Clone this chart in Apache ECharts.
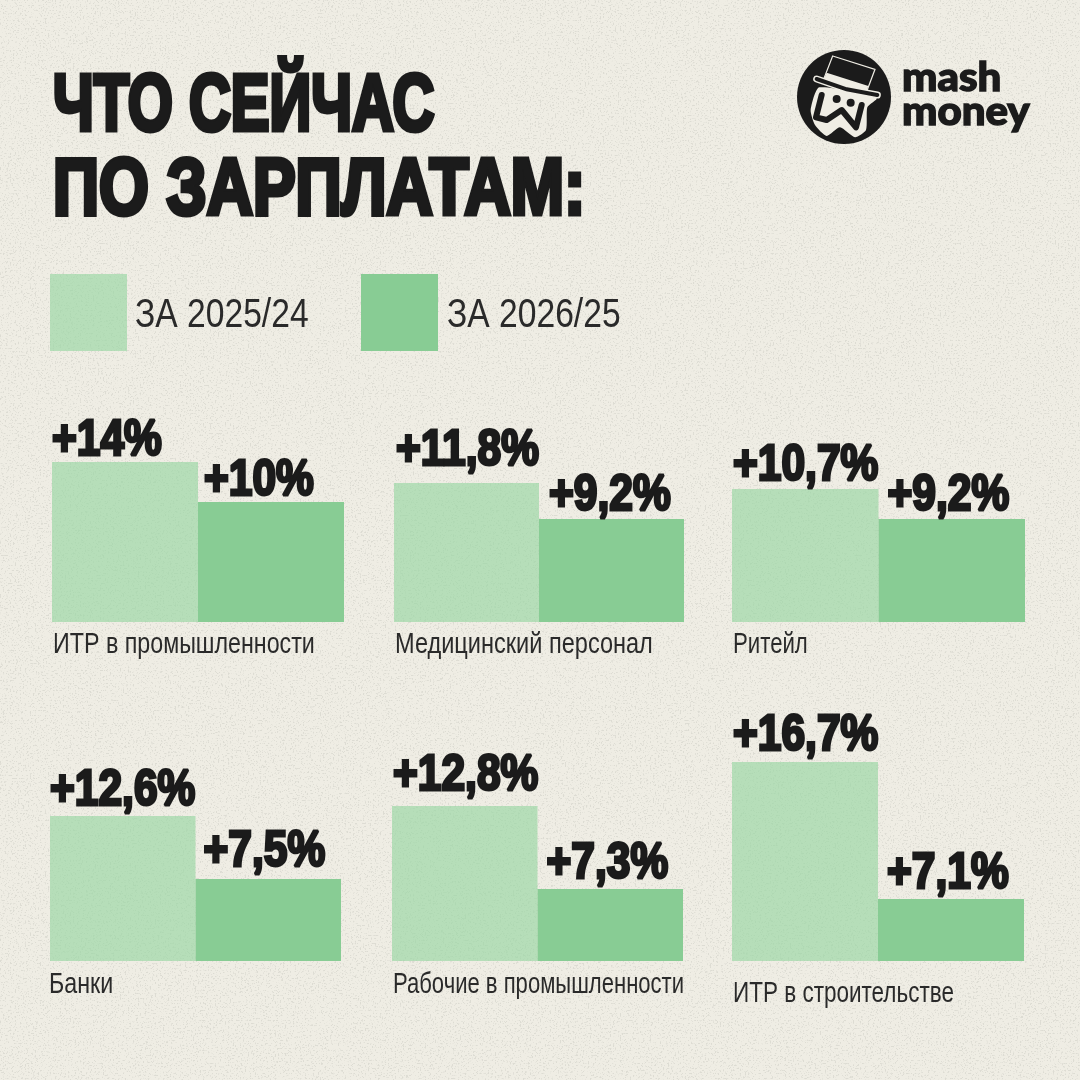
<!DOCTYPE html>
<html><head><meta charset="utf-8">
<script src="https://cdn.jsdelivr.net/npm/echarts@6/dist/echarts.min.js"></script>
<style>
html,body{margin:0;padding:0;width:1080px;height:1080px;overflow:hidden;background:#efede4}
#noise{position:absolute;left:0;top:0}
#c{position:absolute;left:0;top:0;width:1080px;height:1080px}
</style></head><body>
<svg id="noise" width="1080" height="1080"><filter id="f" x="0" y="0" width="100%" height="100%">
<feTurbulence type="fractalNoise" baseFrequency="0.6" numOctaves="3" seed="7"/>
<feColorMatrix values="0 0 0 0 0.55  0 0 0 0 0.55  0 0 0 0 0.50  0 0 0 -7 3.0"/>
</filter><rect width="1080" height="1080" fill="#efede4"/><rect width="1080" height="1080" filter="url(#f)" opacity=".4"/></svg>
<div id="c"></div>
<script>
const titleLines = ['ЧТО СЕЙЧАС', 'ПО ЗАРПЛАТАМ:'];
const seriesNames = ['ЗА 2025/24', 'ЗА 2026/25'];
const categories = ['ИТР в промышленности', 'Медицинский персонал', 'Ритейл', 'Банки', 'Рабочие в промышленности', 'ИТР в строительстве'];
const values2025 = [14, 11.8, 10.7, 12.6, 12.8, 16.7];
const values2026 = [10, 9.2, 9.2, 7.5, 7.3, 7.1];
const logoWords = ['mash', 'money'];

// layout of the six small panels and the vertical scale each one uses in the picture
const panelBox = [
  {x:52,w:292,base:622,nameX:53,nameY:645,nameScale:0.775},{x:394,w:290,base:622,nameX:395,nameY:645,nameScale:0.785},{x:732,w:293,base:622,nameX:733,nameY:645,nameScale:0.74},
  {x:50,w:291,base:961,nameX:49,nameY:985,nameScale:0.775},{x:392,w:291,base:961,nameX:393,nameY:985,nameScale:0.735},{x:732,w:292,base:961,nameX:733,nameY:994,nameScale:0.75}
];
const scaleMin = [-2, 1.76, 4.05, 0.86, 2.53, 2.75];
const scaleMax = [18, 16.2, 14.05, 17.05, 15.78, 16.77];
const labelLift = [[-2,-2],[9,0],[0,0],[2,4],[7,2],[3,2]];
const labelShift = [[0,6],[2,10],[1,9],[0,8],[1,9],[1,9]];

const INK = '#1b1b1b', BASEFONT = '"Liberation Sans",sans-serif', PAPER = '#efede4';
const LIGHT = 'rgba(151,213,162,0.65)', DARK = '#88cc94';
const fmt = v => '+' + String(v).replace('.', ',') + '%';

const grid = [], xAxis = [], yAxis = [], series = [];
categories.forEach((cat, i) => {
  const b = panelBox[i];
  grid.push({left:b.x, top:b.base-200, width:b.w, height:200});
  xAxis.push({gridIndex:i, type:'category', data:[cat], axisLine:{show:false}, axisTick:{show:false}, axisLabel:{show:false}, splitLine:{show:false}});
  yAxis.push({gridIndex:i, type:'value', show:false, min:scaleMin[i], max:scaleMax[i], startValue:scaleMin[i], splitLine:{show:false}});
  [values2025, values2026].forEach((vals, s) => {
    series.push({type:'bar', name:seriesNames[s], xAxisIndex:i, yAxisIndex:i, data:[vals[i]], barWidth:'50%', barGap:0, barCategoryGap:0,
      itemStyle:{color:s ? DARK : LIGHT}, silent:true, animation:false});
  });
  series.push({type:'custom', name:'labels'+i, xAxisIndex:i, yAxisIndex:i, silent:true, z:5, animation:false,
    data:[[0, values2025[i], 0],[0, values2026[i], 1]], encode:{x:0,y:1},
    renderItem:(params, api) => {
      const s = api.value(2), v = api.value(1), p = api.coord([0, v]);
      const left = params.coordSys.x + (s ? params.coordSys.width/2 : 0);
      return {type:'text', x:left+labelShift[i][s], y:p[1]+2-labelLift[i][s], scaleX:0.85,
        style:{text:fmt(v), font:'bold 50px '+BASEFONT, fill:INK, stroke:INK, lineWidth:3, verticalAlign:'bottom', align:'left'}};
    }});
});

const ox = 780, oy = 30, z = p => p.map(q => [ox+q[0]/3, oy+q[1]/3]);
const titleScale = [0.725, 0.80];
const graphic = [
  ...titleLines.map((t, i) => ({type:'text', x:53, y:68+i*84, scaleX:titleScale[i],
    style:{text:t, font:'bold 80px '+BASEFONT, fill:INK, stroke:INK, lineWidth:5}})),
  ...seriesNames.map((t, i) => ({type:'text', x:[135,447][i], y:316, scaleX:0.82,
    style:{text:t, font:'41px '+BASEFONT, fill:'#2a2a2a', verticalAlign:'middle'}})),
  ...categories.map((t, i) => ({type:'text', x:panelBox[i].nameX, y:panelBox[i].nameY, scaleX:panelBox[i].nameScale,
    style:{text:t, font:'30px '+BASEFONT, fill:'#2a2a2a', verticalAlign:'middle'}})),
  {type:'circle', shape:{cx:844,cy:97,r:47}, style:{fill:INK}},
  {type:'polygon', shape:{points:z([[118,172],[290,205],[262,232],[258,300],[225,322],[180,292],[140,318],[105,285],[92,240]]),smooth:0.2}, style:{fill:PAPER}},
  {type:'polygon', shape:{points:z([[158,78],[285,118],[258,190],[130,150]])}, style:{fill:INK, stroke:PAPER, lineWidth:1.2}},
  {type:'polygon', shape:{points:z([[140,128],[265,168],[258,190],[130,150]])}, style:{fill:PAPER}},
  {type:'polyline', shape:{points:z([[110,147],[200,178],[292,195]])}, style:{stroke:PAPER, lineWidth:7, fill:null, lineCap:'round'}},
  {type:'polyline', shape:{points:z([[110,147],[200,178],[292,195]])}, style:{stroke:INK, lineWidth:4, fill:null, lineCap:'round'}},
  {type:'circle', shape:{cx:ox+170/3,cy:oy+207/3,r:4}, style:{fill:INK}},
  {type:'circle', shape:{cx:ox+212/3,cy:oy+218/3,r:4}, style:{fill:INK}},
  {type:'polyline', shape:{points:z([[125,195],[108,262],[140,270],[185,240],[228,292],[245,225]])}, style:{stroke:INK, lineWidth:6, fill:null, lineCap:'round', lineJoin:'round'}},
  {type:'text', x:902, y:58, scaleX:1.05, style:{text:logoWords[0], font:'900 40px Lato', fill:INK, stroke:INK, lineWidth:1.4}},
  {type:'text', x:902, y:92, scaleX:1.05, style:{text:logoWords[1], font:'900 40px Lato', fill:INK, stroke:INK, lineWidth:1.4}}
];

const chart = echarts.init(document.getElementById('c'), null, {renderer:'canvas', width:1080, height:1080});
chart.setOption({
  animation:false, backgroundColor:'transparent',
  legend:{left:50, top:274, padding:0, itemWidth:77, itemHeight:77, itemGap:234, icon:'rect', selectedMode:false, data:seriesNames, formatter:()=>''},
  grid, xAxis, yAxis, series, graphic
});
</script></body></html>
